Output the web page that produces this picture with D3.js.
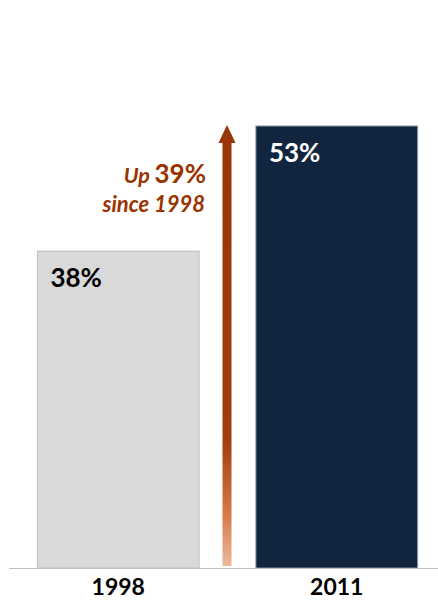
<!DOCTYPE html>
<html>
<head>
<meta charset="utf-8">
<script src="https://cdn.jsdelivr.net/npm/d3@7"></script>
<style>
  body { margin: 0; background: #fff; }
  svg { display: block; font-family: Lato, "Open Sans", sans-serif; }
</style>
</head>
<body>
<svg id="chart" width="438" height="600"></svg>
<script>
// Data
var years = ["1998", "2011"];
var shares = [38, 53];
var barColors = ["#d9d9d9", "#12253f"];
var labelColors = ["#000000", "#ffffff"];
var changeText = ["Up ", "39%", "since 1998"];

var svg = d3.select("#chart");
var baseline = 568;

// Scales
var x = d3.scaleBand()
    .domain(years)
    .range([9, 446])
    .paddingInner(0.26)
    .paddingOuter(0.13);

var y = d3.scaleLinear()
    .domain([0, 53])
    .range([baseline, 126]);

// Bars
svg.selectAll("rect.bar")
    .data(years)
    .enter().append("rect")
    .attr("class", "bar")
    .attr("x", function(d) { return x(d); })
    .attr("width", x.bandwidth())
    .attr("y", function(d, i) { return y(shares[i]); })
    .attr("height", function(d, i) { return baseline - y(shares[i]); })
    .attr("fill", function(d, i) { return barColors[i]; })
    .attr("stroke", function(d, i) { return i === 0 ? "#bdbdbd" : "#8a949e"; })
    .attr("stroke-width", 1);

// Value labels inside bars
svg.selectAll("text.value")
    .data(years)
    .enter().append("text")
    .attr("class", "value")
    .attr("x", function(d) { return x(d) + 13; })
    .attr("y", function(d, i) { return y(shares[i]) + 35.5; })
    .attr("fill", function(d, i) { return labelColors[i]; })
    .attr("font-size", 26)
    .attr("font-weight", "bold")
    .text(function(d, i) { return shares[i] + "%"; });

// Baseline
svg.append("line")
    .attr("x1", 9).attr("x2", 438)
    .attr("y1", baseline + 0.5).attr("y2", baseline + 0.5)
    .attr("stroke", "#bfbfbf")
    .attr("stroke-width", 1);

// Category labels
svg.selectAll("text.year")
    .data(years)
    .enter().append("text")
    .attr("class", "year")
    .attr("x", function(d) { return x(d) + x.bandwidth() / 2; })
    .attr("y", 595)
    .attr("text-anchor", "middle")
    .attr("font-size", 23)
    .attr("font-weight", "bold")
    .attr("fill", "#000")
    .text(function(d) { return d; });

// Growth arrow
var defs = svg.append("defs");
var grad = defs.append("linearGradient")
    .attr("id", "arrowGrad")
    .attr("x1", 0).attr("y1", 0).attr("x2", 0).attr("y2", 1);
grad.append("stop").attr("offset", "0%").attr("stop-color", "#983608");
grad.append("stop").attr("offset", "70%").attr("stop-color", "#a13c0c");
grad.append("stop").attr("offset", "88%").attr("stop-color", "#d67a4a");
grad.append("stop").attr("offset", "100%").attr("stop-color", "#ecb99c");

var ax = 227;
var tipY = y(53) - 1;
svg.append("rect")
    .attr("x", ax - 4.5)
    .attr("width", 9)
    .attr("y", tipY + 16)
    .attr("height", y(0) - 2 - (tipY + 16))
    .attr("fill", "url(#arrowGrad)");
svg.append("path")
    .attr("d", "M" + ax + "," + tipY + " L" + (ax + 8.5) + "," + (tipY + 18) +
               " L" + (ax - 8.5) + "," + (tipY + 18) + " Z")
    .attr("fill", "#983608");

// Growth annotation
var note = svg.append("text")
    .attr("x", 206)
    .attr("y", 183)
    .attr("text-anchor", "end")
    .attr("fill", "#993300")
    .attr("font-weight", "bold");
note.append("tspan")
    .attr("font-style", "italic")
    .attr("font-size", 21.5)
    .text(changeText[0]);
note.append("tspan")
    .attr("font-size", 26)
    .text(changeText[1]);

svg.append("text")
    .attr("x", 205)
    .attr("y", 212)
    .attr("text-anchor", "end")
    .attr("fill", "#993300")
    .attr("font-weight", "bold")
    .attr("font-style", "italic")
    .attr("font-size", 22)
    .text(changeText[2]);
</script>
</body>
</html>
